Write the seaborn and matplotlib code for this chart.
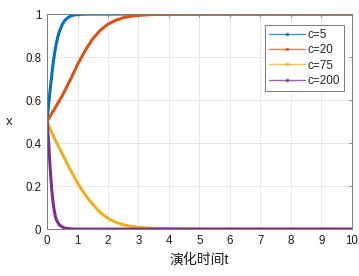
import numpy as np
import pandas as pd
import matplotlib
matplotlib.use("Agg")
import matplotlib.pyplot as plt
import seaborn as sns
from matplotlib.lines import Line2D

# ---- data ----
labels = ["c=5", "c=20", "c=75", "c=200"]
colors = ["#0072BD", "#D95319", "#EDB120", "#7E2F8E"]

t_c5 = [0, 0.05, 0.1, 0.15, 0.2, 0.25, 0.3, 0.35, 0.4, 0.5, 0.6, 0.7, 0.8, 0.9, 1.0, 1.2, 1.5, 10]
x_c5 = [0.5, 0.575, 0.645, 0.71, 0.77, 0.82, 0.86, 0.892, 0.917, 0.952, 0.973, 0.985, 0.992, 0.996, 0.998, 0.9995, 1.0, 1.0]

t_c20 = [0, 0.25, 0.5, 0.75, 1.0, 1.25, 1.5, 1.75, 2.0, 2.25, 2.5, 2.75, 3.0, 3.5, 4.0, 5.0, 10]
x_c20 = [0.5, 0.56, 0.62, 0.69, 0.765, 0.83, 0.885, 0.925, 0.953, 0.971, 0.983, 0.99, 0.994, 0.998, 0.9995, 1.0, 1.0]

t_c75 = [0, 0.25, 0.5, 0.75, 1.0, 1.25, 1.5, 1.75, 2.0, 2.25, 2.5, 2.75, 3.0, 3.5, 4.0, 5.0, 10]
x_c75 = [0.5, 0.42, 0.35, 0.28, 0.215, 0.16, 0.115, 0.077, 0.05, 0.032, 0.02, 0.013, 0.008, 0.003, 0.001, 0.0, 0.0]

t_c200 = [0, 0.05, 0.1, 0.15, 0.2, 0.25, 0.3, 0.4, 0.5, 0.6, 0.8, 1.0, 10]
x_c200 = [0.5, 0.41, 0.29, 0.19, 0.12, 0.075, 0.045, 0.02, 0.01, 0.004, 0.001, 0.0, 0.0]

x_ticks = list(range(0, 11))
y_ticks = [0, 0.2, 0.4, 0.6, 0.8, 1]
y_ticklabels = ["0", "0.2", "0.4", "0.6", "0.8", "1"]

frames = []
for lab, tt, xx in zip(labels, [t_c5, t_c20, t_c75, t_c200], [x_c5, x_c20, x_c75, x_c200]):
    frames.append(pd.DataFrame({"t": tt, "x": xx, "c": lab}))
df = pd.concat(frames, ignore_index=True)

sns.set_style("white")
plt.rcParams["font.family"] = ["Liberation Sans", "Noto Sans CJK SC", "DejaVu Sans"]

fig = plt.figure(figsize=(3.59, 2.76), dpi=100)
ax = fig.add_axes([0.131, 0.170, 0.849, 0.779])

sns.lineplot(data=df, x="t", y="x", hue="c", hue_order=labels,
             palette=dict(zip(labels, colors)), linewidth=2.2,
             legend=False, ax=ax, sort=False)

ax.set_xlim(0, 10)
ax.set_ylim(0, 1)
ax.set_xticks(x_ticks)
ax.set_yticks(y_ticks)
ax.set_yticklabels(y_ticklabels)
ax.grid(True, color="#e3e3e3", linewidth=0.6)
ax.set_axisbelow(True)
for s in ax.spines.values():
    s.set_visible(True)
    s.set_color("#7a7a7a")
    s.set_linewidth(0.7)
ax.tick_params(direction="in", length=2.5, width=0.6, color="#7a7a7a",
               labelsize=8.3, labelcolor="#1a1a1a", top=True, right=True)
ax.tick_params(axis="x", pad=4.5)
ax.tick_params(axis="y", pad=4)
ax.set_xlabel("演化时间t", fontsize=10, color="#1a1a1a", labelpad=4)
ax.set_ylabel("x", fontsize=9.5, color="#1a1a1a", rotation=0, labelpad=12, va="center")

handles = [Line2D([0, 0.5, 1], [0, 0, 0], color=c, lw=1.0, marker=".", markersize=3,
                  alpha=0.75, markevery=[1]) for c in colors]
leg = ax.legend(handles, labels, loc="upper right", bbox_to_anchor=(0.975, 0.95),
                fontsize=8.5, frameon=True, fancybox=False, framealpha=1,
                edgecolor="#7a7a7a", handlelength=3.0, handletextpad=0.25,
                borderpad=0.35, labelspacing=0.28, borderaxespad=0)
leg.get_frame().set_linewidth(0.7)

fig.savefig("out.png", dpi=100)
